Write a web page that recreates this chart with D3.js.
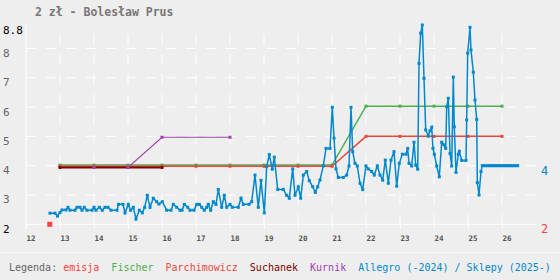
<!DOCTYPE html>
<html>
<head>
<meta charset="utf-8">
<script src="https://cdn.jsdelivr.net/npm/d3@7"></script>
<style>
body { margin: 0; background: #eeeeee; }
svg { display: block; font-family: "DejaVu Sans Mono", monospace; }
</style>
</head>
<body>
<div id="chart"></div>
<script>
// chart data
var yearTicks = [12, 13, 14, 15, 16, 17, 18, 19, 20, 21, 22, 23, 24, 25, 26];
var priceTicks = [2, 3, 4, 5, 6, 7, 8];
var priceMax = 8.8;

var emisjaYears = [12.7];
var emisjaValues = [2];

var fischerYears = [13, 14, 15, 16, 17, 18, 19, 20, 21, 22, 23, 24, 25, 26];
var fischerValues = [4.02, 4.02, 4.02, 4.02, 4.02, 4.02, 4.02, 4.02, 4.02, 6.03, 6.03, 6.03, 6.03, 6.03];

var parchYears = [13, 14, 15, 16, 17, 18, 19, 20, 21, 22, 23, 24, 25, 26];
var parchValues = [3.98, 3.98, 3.98, 3.98, 3.98, 3.98, 3.98, 3.98, 3.98, 5, 5, 5, 5, 5];

var suchanekYears = [13, 16];
var suchanekValues = [3.94, 3.94];

var kurnikYears = [14, 15, 16, 18];
var kurnikValues = [3.94, 3.94, 4.97, 4.97];

var allegroYears = [12.706,12.853,12.926,13.0,13.059,13.176,13.235,13.294,13.441,13.5,13.588,13.647,13.715,13.794,13.941,14.0,14.059,14.156,14.244,14.324,14.412,14.5,14.676,14.721,14.853,14.912,15.009,15.079,15.156,15.235,15.332,15.421,15.491,15.568,15.647,15.744,15.844,15.912,
  16.009,16.138,16.265,16.332,16.432,16.529,16.588,16.656,16.756,16.824,16.941,17.021,17.097,17.168,17.244,17.315,17.362,17.432,17.509,17.588,17.656,17.756,17.832,17.903,18.0,18.068,18.244,18.324,18.391,18.559,18.638,18.735,18.832,18.912,19.009,19.079,19.156,19.244,19.303,19.403,19.568,
  19.668,19.744,19.844,19.912,20.009,20.079,20.156,20.256,20.332,20.432,20.509,20.579,20.647,20.744,20.824,20.941,21.009,21.059,21.118,21.185,21.332,21.432,21.5,21.559,21.609,21.676,21.744,21.824,21.903,22.0,22.068,22.168,22.244,22.332,22.412,22.491,22.568,22.656,22.735,22.824,22.903,22.979,
  23.068,23.176,23.226,23.265,23.344,23.412,23.462,23.521,23.559,23.609,23.656,23.706,23.756,23.832,23.882,23.932,23.97,24.009,24.079,24.156,24.226,24.294,24.344,24.374,24.421,24.471,24.521,24.568,24.597,24.647,24.715,24.744,24.815,24.941,24.962,24.991,25.059,25.088,25.156,25.206,25.256,25.274,25.324,25.382,
  25.42,25.47,25.53,25.59,25.65,25.71,25.76,25.82,25.88,25.94,26.0,26.06,26.12,26.18,26.24,26.29,26.35,26.41,26.46];
var allegroValues = [2.38,2.38,2.28,2.40,2.49,2.49,2.58,2.48,2.48,2.58,2.58,2.48,2.58,2.48,2.48,2.58,2.48,2.58,2.48,2.58,2.58,2.48,2.48,2.68,2.68,2.39,2.68,2.48,2.58,2.18,2.48,2.39,2.58,2.99,2.58,2.89,2.77,2.69,
  2.77,2.48,2.48,2.68,2.58,2.48,2.48,2.68,2.58,2.48,2.48,2.68,2.68,2.58,2.48,2.58,2.68,2.48,2.77,2.68,3.19,2.58,2.99,2.58,2.68,2.58,2.58,2.89,2.68,2.68,2.77,3.68,2.58,3.50,2.39,3.97,4.38,3.88,4.29,3.19,3.19,
  2.99,2.89,3.89,2.99,3.28,2.89,3.68,3.80,3.49,3.28,3.09,3.28,3.51,3.99,4.59,4.59,5.99,4.94,3.89,3.60,3.60,3.68,3.99,5.99,4.48,4.08,3.99,3.40,3.19,3.99,3.89,3.80,3.68,3.99,3.68,3.51,4.19,3.40,4.19,4.48,3.30,4.08,
  4.39,4.39,4.59,4.08,3.99,4.80,4.02,3.88,7.49,8.52,8.80,6.98,5.22,5.01,5.19,5.31,4.59,4.39,3.99,3.62,4.80,4.71,4.59,6.01,6.30,4.42,3.99,7.02,5.33,3.77,4.39,4.49,4.18,4.18,5.56,7.84,8.72,7.95,7.19,6.24,5.58,3.42,3.00,3.80,
  4,4,4,4,4,4,4,4,4,4,4,4,4,4,4,4,4,4,4];

var legendNames = ["emisja", "Fischer", "Parchimowicz", "Suchanek", "Kurnik", "Allegro (-2024) / Sklepy (2025-)"];

var colors = {
  emisja: "#ff4040",
  fischer: "#4caf50",
  parch: "#e8473d",
  suchanek: "#800000",
  kurnik: "#a040b0",
  allegro: "#0088cc"
};
var legendColors = [colors.emisja, colors.fischer, colors.parch, colors.suchanek, colors.kurnik, colors.allegro];

var width = 560, height = 280;

var svg = d3.select("#chart")
  .append("svg")
  .attr("width", width)
  .attr("height", height);

svg.append("rect").attr("width", width).attr("height", height).attr("fill", "#eeeeee");

var x = d3.scaleLinear().domain([12, 27]).range([26, 536]);
var y = d3.scaleLinear().domain([2, priceMax]).range([224.3, 25]);

// title
svg.append("text")
  .attr("x", 35).attr("y", 16)
  .attr("fill", "#777")
  .style("font-size", "11.5px")
  .style("font-weight", "bold")
  .text("2 zł - Bolesław Prus");

// grid
var grid = svg.append("g");
grid.selectAll("line.h")
  .data(priceTicks.filter(function(d) { return d > 2; }))
  .enter().append("line")
    .attr("x1", x(12)).attr("x2", x(27))
    .attr("y1", function(d) { return y(d); })
    .attr("y2", function(d) { return y(d); })
    .attr("stroke", "#fff")
    .attr("stroke-dasharray", "10,10");

grid.selectAll("line.v")
  .data(yearTicks.filter(function(d) { return d > 12; }))
  .enter().append("line")
    .attr("x1", function(d) { return x(d); })
    .attr("x2", function(d) { return x(d); })
    .attr("y1", y(2)).attr("y2", y(priceMax))
    .attr("stroke", "#fff")
    .attr("stroke-dasharray", "10,10");

// x axis with ticks + labels
var xAxis = svg.append("g")
  .attr("transform", "translate(0," + y(2) + ")")
  .call(d3.axisBottom(x).tickValues(yearTicks).tickSize(4).tickFormat(d3.format("d")));
xAxis.select(".domain").attr("d", "M" + x(12) + ",0H" + x(27)).attr("stroke", "#fff");
xAxis.selectAll(".tick line").attr("stroke", "#fff");
xAxis.selectAll(".tick text")
  .attr("fill", "#555")
  .attr("y", 17)
  .attr("dy", null)
  .attr("text-anchor", "start")
  .style("font-family", "DejaVu Sans Mono, monospace")
  .style("font-size", "7.5px")
  .style("font-weight", "bold");

// y axis line
svg.append("line")
  .attr("x1", x(12)).attr("x2", x(12))
  .attr("y1", y(priceMax)).attr("y2", y(2) + 5)
  .attr("stroke", "#fff");

// y labels (hang below gridline)
var yLabels = priceTicks.concat([priceMax]);
svg.selectAll("text.ylab")
  .data(yLabels)
  .enter().append("text")
    .attr("x", 3)
    .attr("y", function(d) { return y(d) + 8.5; })
    .attr("fill", function(d) { return (d === 2 || d === priceMax) ? "#000" : "#666"; })
    .style("font-size", "11px")
    .text(function(d) { return d; });

// series helpers
function pts(xs, vs) { return d3.zip(xs, vs); }
var line = d3.line().x(function(d) { return x(d[0]); }).y(function(d) { return y(d[1]); });

var lineSeries = [
  {p: pts(fischerYears, fischerValues), c: colors.fischer, w: 1.5},
  {p: pts(parchYears, parchValues), c: colors.parch, w: 1.5},
  {p: pts(kurnikYears, kurnikValues), c: colors.kurnik, w: 1.2},
  {p: pts(suchanekYears, suchanekValues), c: colors.suchanek, w: 2}
];
lineSeries.forEach(function(s) {
  svg.append("path")
    .attr("d", line(s.p))
    .attr("fill", "none")
    .attr("stroke", s.c)
    .attr("stroke-width", s.w);
});

var markerSeries = [
  {p: pts(fischerYears, fischerValues), c: colors.fischer},
  {p: pts(parchYears, parchValues), c: colors.parch},
  {p: pts(suchanekYears, suchanekValues), c: colors.suchanek},
  {p: pts(kurnikYears, kurnikValues), c: colors.kurnik}
];
markerSeries.forEach(function(s) {
  svg.append("g").selectAll("rect")
    .data(s.p)
    .enter().append("rect")
      .attr("x", function(d) { return x(d[0]) - 1.5; })
      .attr("y", function(d) { return y(d[1]) - 1.5; })
      .attr("width", 3).attr("height", 3)
      .attr("fill", s.c);
});

// allegro / sklepy
var allegro = pts(allegroYears, allegroValues);
svg.append("path")
  .attr("d", line(allegro))
  .attr("fill", "none")
  .attr("stroke", colors.allegro)
  .attr("stroke-width", 1.5);
svg.append("g").selectAll("rect")
  .data(allegro)
  .enter().append("rect")
    .attr("x", function(d) { return x(d[0]) - 1.5; })
    .attr("y", function(d) { return y(d[1]) - 1.5; })
    .attr("width", 3).attr("height", 3)
    .attr("fill", colors.allegro);

// emisja
svg.append("g").selectAll("rect")
  .data(pts(emisjaYears, emisjaValues))
  .enter().append("rect")
    .attr("x", function(d) { return x(d[0]) - 2.5; })
    .attr("y", function(d) { return y(d[1]) - 2.5; })
    .attr("width", 5).attr("height", 5)
    .attr("fill", colors.emisja);

// right side last-value labels
svg.append("text")
  .attr("x", 541).attr("y", y(allegroValues[allegroValues.length - 1]) + 9)
  .attr("fill", colors.allegro)
  .style("font-size", "12px")
  .text(allegroValues[allegroValues.length - 1]);
svg.append("text")
  .attr("x", 541).attr("y", y(emisjaValues[0]) + 9)
  .attr("fill", colors.emisja)
  .style("font-size", "12px")
  .text(emisjaValues[0]);

// legend
svg.append("line")
  .attr("x1", 0).attr("x2", width)
  .attr("y1", 252.5).attr("y2", 252.5)
  .attr("stroke", "#f8f8f8");

var legend = svg.append("text")
  .attr("x", 9).attr("y", 271)
  .style("font-size", "10px")
  .attr("xml:space", "preserve")
  .style("white-space", "pre");
legend.append("tspan").attr("fill", "#666").text("Legenda: ");
legendNames.forEach(function(n, i) {
  legend.append("tspan").attr("fill", legendColors[i]).text(n + (i < legendNames.length - 1 ? "  " : ""));
});
</script>
</body>
</html>
